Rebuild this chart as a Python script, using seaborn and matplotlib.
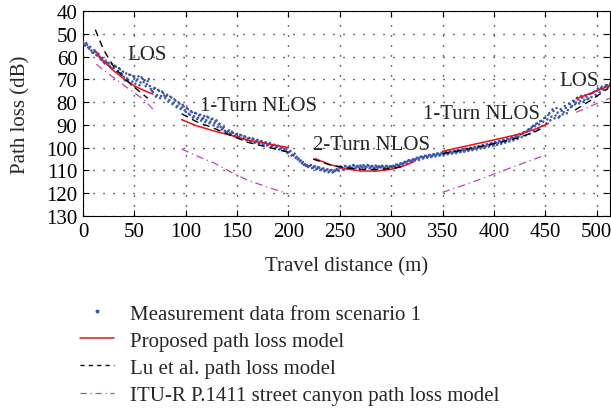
import numpy as np
import pandas as pd
import matplotlib
matplotlib.use("Agg")
import matplotlib.pyplot as plt
import seaborn as sns
from matplotlib.lines import Line2D

# ---------------- data ----------------
meas_distance_even = list(range(0, 515, 2))
meas_loss_even = [
    53.5, 55.2, 54.8, 56.5, 57.3, 58.4, 58.0, 59.6, 60.2, 61.5,
    62.3, 61.8, 63.4, 64.1, 63.2, 65.0, 64.4, 66.3, 65.6, 67.8,
    68.9, 67.4, 70.2, 68.1, 71.0, 69.3, 70.6, 68.7, 71.4, 69.8,
    70.4, 72.1, 69.9, 74.2, 75.6, 73.8, 76.9, 75.1, 77.3, 76.0,
    78.2, 76.8, 79.1, 78.0, 80.3, 79.4, 81.6, 80.7, 82.4, 81.9,
    84.3, 83.1, 85.6, 84.4, 86.2, 85.0, 86.9, 85.5, 87.4, 86.1,
    87.9, 86.8, 88.6, 87.3, 89.2, 88.0, 89.9, 90.8, 91.5, 92.6,
    93.2, 92.4, 94.1, 93.5, 94.8, 93.9, 95.3, 94.6, 95.9, 95.2,
    96.4, 95.7, 97.0, 96.2, 97.5, 96.6, 97.8, 97.1, 98.3, 97.6,
    98.8, 98.0, 99.3, 98.7, 99.8, 99.2, 100.4, 99.9, 101.0, 100.6,
    102.0, 101.5, 103.1, 102.6, 104.0, 104.8, 105.6, 106.3, 107.2, 107.7,
    108.1, 107.6, 108.7, 108.3, 109.2, 108.8, 109.6, 109.1, 110.0, 109.5,
    110.3, 109.8, 110.6, 110.1, 109.7, 109.0, 108.6, 109.2, 108.3, 108.9,
    108.2, 108.8, 107.9, 108.6, 108.3, 107.8, 108.7, 108.1, 108.5, 108.0,
    108.6, 108.2, 108.9, 108.4, 108.1, 108.7, 108.3, 108.8, 108.2, 108.6,
    108.4, 107.9, 108.1, 107.5, 107.7, 107.0, 106.8, 106.3, 106.0, 105.6,
    105.8, 105.2, 105.0, 104.6, 104.3, 104.0, 104.2, 103.6, 103.9, 103.3,
    103.6, 103.0, 103.2, 102.7, 103.0, 102.4, 102.7, 102.1, 102.4, 101.8,
    102.1, 101.6, 101.9, 101.3, 101.6, 101.0, 101.2, 100.6, 100.9, 100.3,
    100.6, 99.9, 100.2, 99.5, 99.8, 99.1, 99.4, 98.7, 98.9, 98.2,
    98.5, 97.8, 98.0, 97.3, 97.5, 96.8, 97.0, 96.2, 96.4, 95.6,
    95.8, 95.0, 95.1, 94.2, 94.0, 93.1, 93.0, 91.9, 91.6, 90.4,
    90.6, 89.3, 89.8, 88.2, 88.6, 86.9, 87.6, 84.8, 86.4, 83.9,
    85.9, 84.6, 86.2, 83.8, 84.4, 82.6, 83.5, 80.9, 81.7, 79.6,
    80.2, 78.8, 79.5, 78.1, 79.0, 77.6, 78.4, 76.5, 76.0, 75.3,
    75.1, 74.4, 73.9, 74.2, 73.3, 72.6, 72.9, 72.3,
]
meas_distance_odd = list(range(1, 514, 2))
meas_loss_odd = [
    54.6, 54.1, 56.0, 55.7, 58.1, 57.2, 59.3, 58.7, 61.0, 60.6,
    63.0, 62.6, 62.8, 64.8, 65.3, 64.0, 66.8, 65.1, 67.2, 66.6,
    70.5, 69.6, 67.9, 72.3, 68.6, 71.9, 70.0, 72.6, 69.1, 71.2,
    73.0, 70.8, 72.9, 75.0, 74.1, 77.6, 74.6, 78.3, 75.4, 77.1,
    77.4, 79.8, 77.6, 80.9, 78.8, 82.2, 80.1, 83.0, 81.2, 83.6,
    82.6, 85.1, 84.0, 86.8, 84.7, 87.5, 85.9, 88.1, 87.0, 88.7,
    86.4, 89.3, 87.6, 90.2, 88.4, 91.0, 89.5, 92.0, 90.9, 93.4,
    92.8, 93.7, 93.0, 95.0, 94.2, 95.6, 94.4, 96.3, 95.0, 96.6,
    95.9, 97.2, 96.0, 97.9, 96.9, 98.2, 97.3, 98.6, 97.9, 99.0,
    98.4, 99.6, 98.9, 100.1, 99.4, 100.8, 100.1, 101.3, 101.4, 102.3,
    101.8, 103.5, 103.4, 104.5, 105.2, 106.0, 106.9, 107.5, 108.0, 108.5,
    107.9, 109.0, 108.2, 109.5, 108.5, 109.9, 109.3, 110.4, 109.8, 110.8,
    109.9, 110.9, 110.0, 109.4, 110.2, 108.5, 109.6, 108.0, 109.4, 108.4,
    108.9, 107.6, 109.1, 108.0, 109.0, 108.4, 107.7, 108.9, 107.6, 109.1,
    108.0, 109.1, 107.8, 108.9, 108.5, 107.9, 109.0, 108.0, 108.9, 108.1,
    108.8, 108.3, 107.4, 108.0, 106.9, 107.4, 106.2, 106.9, 105.5, 106.2,
    105.1, 105.7, 104.4, 105.4, 103.9, 104.8, 103.5, 104.4, 103.2, 104.1,
    102.9, 103.8, 102.5, 103.5, 102.2, 103.3, 101.9, 102.9, 101.6, 102.6,
    101.4, 102.4, 101.0, 102.0, 100.7, 101.8, 100.4, 101.4, 100.0, 101.1,
    99.6, 100.8, 99.3, 100.4, 98.9, 100.0, 98.5, 99.6, 98.0, 99.1,
    97.6, 98.8, 97.0, 98.3, 96.6, 97.8, 96.0, 97.3, 95.4, 96.8,
    94.8, 96.2, 94.0, 95.4, 93.2, 94.6, 92.2, 93.9, 91.0, 92.8,
    89.6, 91.7, 88.4, 90.5, 87.0, 89.3, 85.6, 88.0, 83.2, 87.1,
    82.6, 86.8, 83.1, 85.4, 81.7, 84.9, 80.6, 82.2, 79.4, 81.0,
    78.1, 80.6, 77.3, 79.9, 77.0, 78.7, 76.4, 77.8, 75.6, 76.8,
    74.0, 75.7, 73.2, 74.6, 72.5, 73.6, 71.9,
]

# Proposed model (red), one list per segment
prop_d = [
    [12, 20, 30, 40, 50, 60, 68],
    [96, 110, 127, 145, 160, 180, 200],
    [226, 240, 255, 270, 285, 300, 312, 322],
    [350, 370, 390, 410, 425, 440, 453],
    [480, 495, 514],
]
prop_l = [
    [57.5, 62.0, 66.3, 69.8, 72.9, 75.0, 76.5],
    [87.7, 90.3, 92.6, 94.7, 96.6, 98.3, 100.0],
    [104.8, 107.4, 109.2, 110.2, 110.3, 109.5, 108.0, 106.2],
    [101.6, 99.6, 97.6, 95.6, 94.0, 91.9, 89.4],
    [78.5, 76.0, 72.5],
]

# Lu et al. model (black dashed)
lu_d = [
    [12, 20, 30, 40, 50, 63],
    [96, 110, 127, 145, 160, 180, 200],
    [224, 240, 255, 270, 285, 300, 310],
    [350, 370, 390, 410, 425, 440, 450],
    [479, 495, 511],
]
lu_l = [
    [48.2, 57.0, 64.5, 69.5, 73.5, 78.3],
    [85.1, 88.5, 91.4, 94.8, 97.6, 99.8, 102.0],
    [105.0, 107.5, 108.8, 109.5, 109.6, 109.2, 108.4],
    [102.6, 101.0, 99.2, 97.2, 95.5, 93.0, 90.8],
    [83.5, 79.0, 74.0],
]

# ITU-R P.1411 model (magenta dash-dot)
itu_d = [
    [13, 20, 30, 40, 50, 60, 68],
    [96, 110, 127, 145, 160, 180, 200],
    [350, 375, 400, 425, 453],
    [480, 496, 513],
]
itu_l = [
    [63.3, 66.0, 69.3, 72.7, 75.9, 79.3, 83.0],
    [100.6, 103.5, 106.6, 111.0, 114.2, 117.4, 120.3],
    [119.6, 115.8, 111.6, 107.4, 102.8],
    [84.5, 81.4, 78.3],
]

region_labels = ["LOS", "1-Turn NLOS", "2-Turn NLOS", "1-Turn NLOS", "LOS"]
region_x = [43, 114, 224, 331, 464]
region_y = [59, 81.7, 98.8, 84.8, 70.7]

legend_labels = [
    "Measurement data from scenario 1",
    "Proposed path loss model",
    "Lu et al. path loss model",
    "ITU-R P.1411 street canyon path loss model",
]

x_ticks = [0, 50, 100, 150, 200, 250, 300, 350, 400, 450, 500]
y_ticks = [40, 50, 60, 70, 80, 90, 100, 110, 120, 130]

# ---------------- style ----------------
FS = 15
sns.set_theme(style="ticks")
plt.rcParams["font.family"] = ["Liberation Serif", "DejaVu Serif"]
plt.rcParams["font.size"] = FS

blue = "#3a55b0"
red = "#ee1111"
magenta = "#c040c0"

fig = plt.figure(figsize=(6.11, 4.10), dpi=100)
ax = fig.add_axes([83 / 611, 1 - 217 / 410, (610 - 83) / 611, (217 - 12) / 410])

meas_df = pd.concat([
    pd.DataFrame({"d": meas_distance_even, "L": meas_loss_even}),
    pd.DataFrame({"d": meas_distance_odd, "L": meas_loss_odd}),
])
sns.scatterplot(data=meas_df, x="d", y="L", ax=ax, color=blue, s=3.2,
                edgecolor="none", linewidth=0, zorder=3)

for d, l in zip(prop_d, prop_l):
    sns.lineplot(x=d, y=l, ax=ax, color=red, lw=1.1, zorder=4)
for d, l in zip(lu_d, lu_l):
    sns.lineplot(x=d, y=l, ax=ax, color="black", lw=1.0, zorder=5,
                 linestyle=(0, (5, 3.5)))
for d, l in zip(itu_d, itu_l):
    sns.lineplot(x=d, y=l, ax=ax, color=magenta, lw=0.9, zorder=4,
                 linestyle=(0, (6, 3, 1, 3)))

for t, xx, yy in zip(region_labels, region_x, region_y):
    ax.text(xx, yy, t, ha="left", va="center", fontsize=FS, zorder=6)

ax.set_xlim(0, 513)
ax.set_ylim(130, 40)
ax.set_xticks(x_ticks)
ax.set_yticks(y_ticks)
ax.set_xlabel("Travel distance (m)", fontsize=FS, labelpad=11)
ax.set_ylabel("Path loss (dB)", fontsize=FS, labelpad=11)
ax.tick_params(direction="in", top=True, right=True, length=4, width=0.8,
               labelsize=FS, pad=4, colors="black")
for s in ax.spines.values():
    s.set_color("black")
    s.set_linewidth(0.8)
    s.set_visible(True)
ax.grid(True, color="black", linestyle=(0, (0.8, 6.4)), linewidth=1.0)
ax.set_axisbelow(True)

handles = [
    Line2D([], [], marker="o", color=blue, linestyle="none", markersize=1.8),
    Line2D([], [], color=red, lw=1.1),
    Line2D([], [], color="black", lw=1.0, linestyle=(0, (3, 3))),
    Line2D([], [], color=magenta, lw=0.9, linestyle=(0, (5, 3, 1, 3))),
]
fig.legend(handles, legend_labels, loc="upper left",
           bbox_to_anchor=(80 / 611, 1 - 305 / 410), frameon=False,
           fontsize=FS, handlelength=1.65, handletextpad=0.75,
           labelspacing=0.36, borderaxespad=0, borderpad=0)

fig.savefig("out.png", dpi=100)
